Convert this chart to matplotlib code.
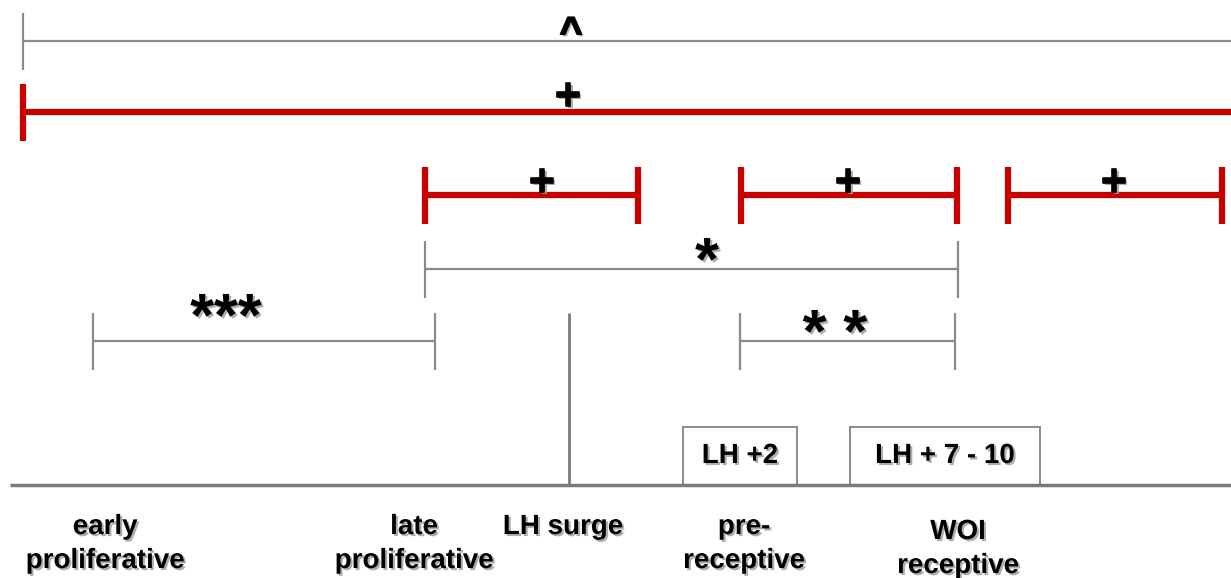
import matplotlib
matplotlib.use("Agg")
import matplotlib.pyplot as plt
import matplotlib.patheffects as pe
from matplotlib.patches import Rectangle

# ---- data (diagram elements, in pixel coordinates of the reference) ----
gray_brackets_x0 = [23, 425, 93, 740]
gray_brackets_x1 = [1240, 958, 435, 955]
gray_brackets_y = [41, 269, 341, 341]
gray_brackets_right_tick = [False, True, True, True]
gray_symbols = ["^", "*", "***", "* *"]
gray_symbol_x = [571, 707, 226, 835]
gray_symbol_y = [44, 280, 336, 352]

red_brackets_x0 = [23, 425, 741, 1008]
red_brackets_x1 = [1240, 638, 957, 1222]
red_brackets_y = [112, 195, 195, 195]
red_brackets_right_tick = [False, True, True, True]
red_symbols = ["+", "+", "+", "+"]
red_symbol_x = [568, 542, 848, 1114]
red_symbol_y = [109, 195, 195, 195]

stage_labels = ["early\nproliferative", "late\nproliferative", "LH surge",
                "pre-\nreceptive", "WOI\nreceptive"]
stage_x = [105, 414, 563, 744, 958]
stage_y = [527, 527, 527, 527, 532]

box_labels = ["LH +2", "LH + 7 - 10"]
box_x0 = [683, 850]
box_x1 = [797, 1040]

W, H = 1231, 578
fig = plt.figure(figsize=(W / 100, H / 100), dpi=100)
ax = fig.add_axes([0, 0, 1, 1])
ax.set_xlim(0, W)
ax.set_ylim(H, 0)
ax.axis("off")

font = ["Liberation Sans", "DejaVu Sans"]
shadow = [pe.withSimplePatchShadow(offset=(1.5, -1.5), shadow_rgbFace="#999999", alpha=0.8)]
bold_shadow = [pe.SimplePatchShadow(offset=(1.5, -1.5), shadow_rgbFace="#999999", alpha=0.8),
               pe.Stroke(linewidth=1.2, foreground="black"), pe.Normal()]

gray = "#8a8a8a"
red = "#c80000"

# gray brackets
for x0, x1, y, rt in zip(gray_brackets_x0, gray_brackets_x1, gray_brackets_y, gray_brackets_right_tick):
    ax.plot([x0, x1], [y, y], color=gray, lw=1.6, solid_capstyle="butt")
    ax.plot([x0, x0], [y - 28, y + 29], color=gray, lw=1.6, solid_capstyle="butt")
    if rt:
        ax.plot([x1, x1], [y - 28, y + 29], color=gray, lw=1.6, solid_capstyle="butt")

# red brackets
for x0, x1, y, rt in zip(red_brackets_x0, red_brackets_x1, red_brackets_y, red_brackets_right_tick):
    ax.plot([x0, x1], [y, y], color=red, lw=4.5, solid_capstyle="butt")
    ax.plot([x0, x0], [y - 28, y + 29], color=red, lw=4.5, solid_capstyle="butt")
    if rt:
        ax.plot([x1, x1], [y - 28, y + 29], color=red, lw=4.5, solid_capstyle="butt")

# symbols
for s, x, y in zip(gray_symbols, gray_symbol_x, gray_symbol_y):
    size = 28 if s == "^" else 44
    ax.text(x, y, s, ha="center", va="baseline", fontsize=size, fontweight="bold",
            family=font, path_effects=bold_shadow if s == "^" else shadow)
for s, x, y in zip(red_symbols, red_symbol_x, red_symbol_y):
    ax.text(x, y, s, ha="center", va="baseline", fontsize=32, fontweight="bold",
            family=font, path_effects=bold_shadow)

# LH surge line
ax.plot([569, 569], [313, 485], color="#7a7a7a", lw=2, solid_capstyle="butt")

# boxes
for lab, x0, x1 in zip(box_labels, box_x0, box_x1):
    ax.add_patch(Rectangle((x0, 427), x1 - x0, 58, fill=False, edgecolor=gray, lw=1.4))
    ax.text((x0 + x1) / 2, 456, lab, ha="center", va="center", fontsize=20, fontweight="bold",
            family=font, path_effects=shadow)

# baseline
ax.plot([10, W], [485, 485], color="#7a7a7a", lw=2.5, solid_capstyle="butt")

# stage labels
for lab, x, y in zip(stage_labels, stage_x, stage_y):
    for i, line in enumerate(lab.split("\n")):
        ax.text(x, y + i * 34, line, ha="center", va="center", fontsize=20, fontweight="bold",
                family=font, path_effects=shadow)

fig.savefig("out.png", dpi=100)
